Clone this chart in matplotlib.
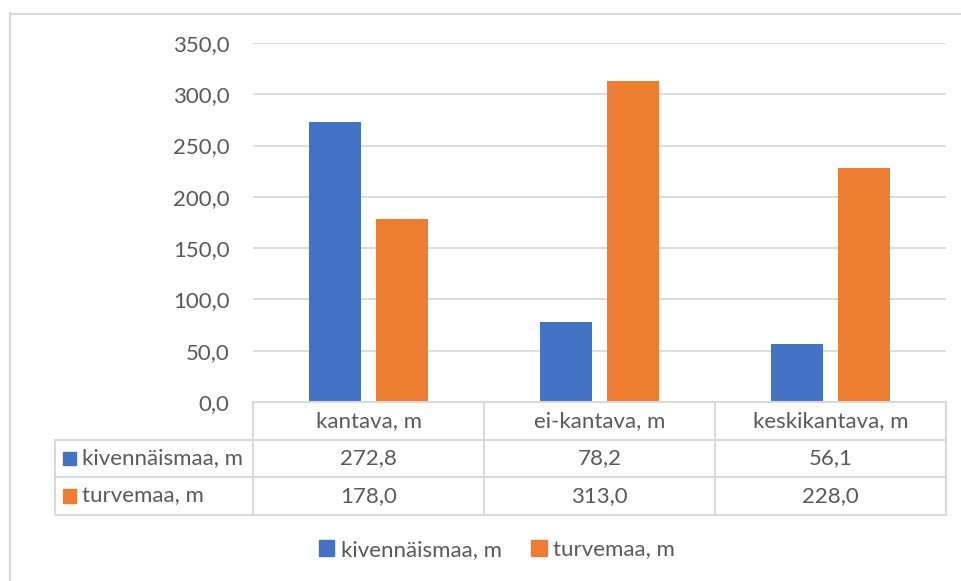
import matplotlib
matplotlib.use('Agg')
import matplotlib.pyplot as plt
from matplotlib.lines import Line2D
from matplotlib.patches import Patch, Rectangle

categories = ['kantava, m', 'ei-kantava, m', 'keskikantava, m']
series_names = ['kivennäismaa, m', 'turvemaa, m']
kivennaismaa = [272.8, 78.2, 56.1]
turvemaa = [178.0, 313.0, 228.0]
yticks = [0, 50, 100, 150, 200, 250, 300, 350]

colors = ['#4472C4', '#ED7D31']
grid_c = '#D9D9D9'
text_c = '#595959'

plt.rcParams['font.family'] = ['Lato', 'DejaVu Sans']
fs = 16

W, H = 961, 581
fig = plt.figure(figsize=(W / 100, H / 100), dpi=100)

def fx(px):
    return px / W

def fy(py):
    return 1 - py / H

# chart border
fig.add_artist(Line2D([fx(9.5), fx(9.5)], [fy(13), 0], transform=fig.transFigure, color=grid_c, lw=1.5))
fig.add_artist(Line2D([fx(9.5), 1], [fy(13.5), fy(13.5)], transform=fig.transFigure, color=grid_c, lw=1.5))

# main plot
left, right, top, bottom = 253, 946, 43, 402
ax = fig.add_axes([fx(left), fy(bottom), fx(right - left), (bottom - top) / H])
x = list(range(len(categories)))
bw = 0.225
off = 0.143
ax.bar([i - off for i in x], kivennaismaa, width=bw, color=colors[0], zorder=2)
ax.bar([i + off for i in x], turvemaa, width=bw, color=colors[1], zorder=2)
ax.set_xlim(-0.5, 2.5)
ax.set_ylim(0, 350)
ax.set_yticks(yticks)
ax.set_yticklabels([f'{v:.1f}'.replace('.', ',') for v in yticks], color=text_c, fontsize=fs)
ax.tick_params(axis='y', length=0, pad=17)
ax.set_xticks([])
for s in ax.spines.values():
    s.set_visible(False)
for v in yticks[1:]:
    ax.axhline(v, color=grid_c, lw=1.3, zorder=1)

# data table
tleft, tright, ttop, tbot = 55, 946, 402, 515
tax = fig.add_axes([fx(tleft), fy(tbot), fx(tright - tleft), (tbot - ttop) / H])
colw = (right - left) / 3
lab_w = (left - tleft) / colw
x0 = -0.5 - lab_w
tax.set_xlim(x0, 2.5)
tax.set_ylim(3, 0)
tax.axis('off')
lw = 1.5
tax.plot([-0.5, 2.5], [0, 0], color=grid_c, lw=lw, clip_on=False)
for yy in [1, 2, 3]:
    tax.plot([x0, 2.5], [yy, yy], color=grid_c, lw=lw, clip_on=False)
for xx in [-0.5, 0.5, 1.5, 2.5]:
    tax.plot([xx, xx], [0, 3], color=grid_c, lw=lw, clip_on=False)
tax.plot([x0, x0], [1, 3], color=grid_c, lw=lw, clip_on=False)

for i, c in enumerate(categories):
    tax.text(i, 0.5, c, ha='center', va='center', color=text_c, fontsize=fs)
for r, (name, vals) in enumerate(zip(series_names, [kivennaismaa, turvemaa])):
    yc = r + 1.5
    tax.add_patch(Rectangle((x0 + 0.035, yc - 0.18), 0.055, 0.36, color=colors[r], clip_on=False))
    tax.text(x0 + 0.115, yc, name, ha='left', va='center', color=text_c, fontsize=fs)
    for i, v in enumerate(vals):
        tax.text(i, yc, f'{v:.1f}'.replace('.', ','), ha='center', va='center', color=text_c, fontsize=fs)

# legend
handles = [Patch(color=colors[0], label=series_names[0]), Patch(color=colors[1], label=series_names[1])]
leg = fig.legend(handles=handles, loc='center', bbox_to_anchor=(fx(497), fy(550)), ncol=2, frameon=False,
                 fontsize=fs, handlelength=0.7, handleheight=0.7, handletextpad=0.3, columnspacing=1.3)
for t in leg.get_texts():
    t.set_color(text_c)

fig.savefig('out.png', dpi=100)
